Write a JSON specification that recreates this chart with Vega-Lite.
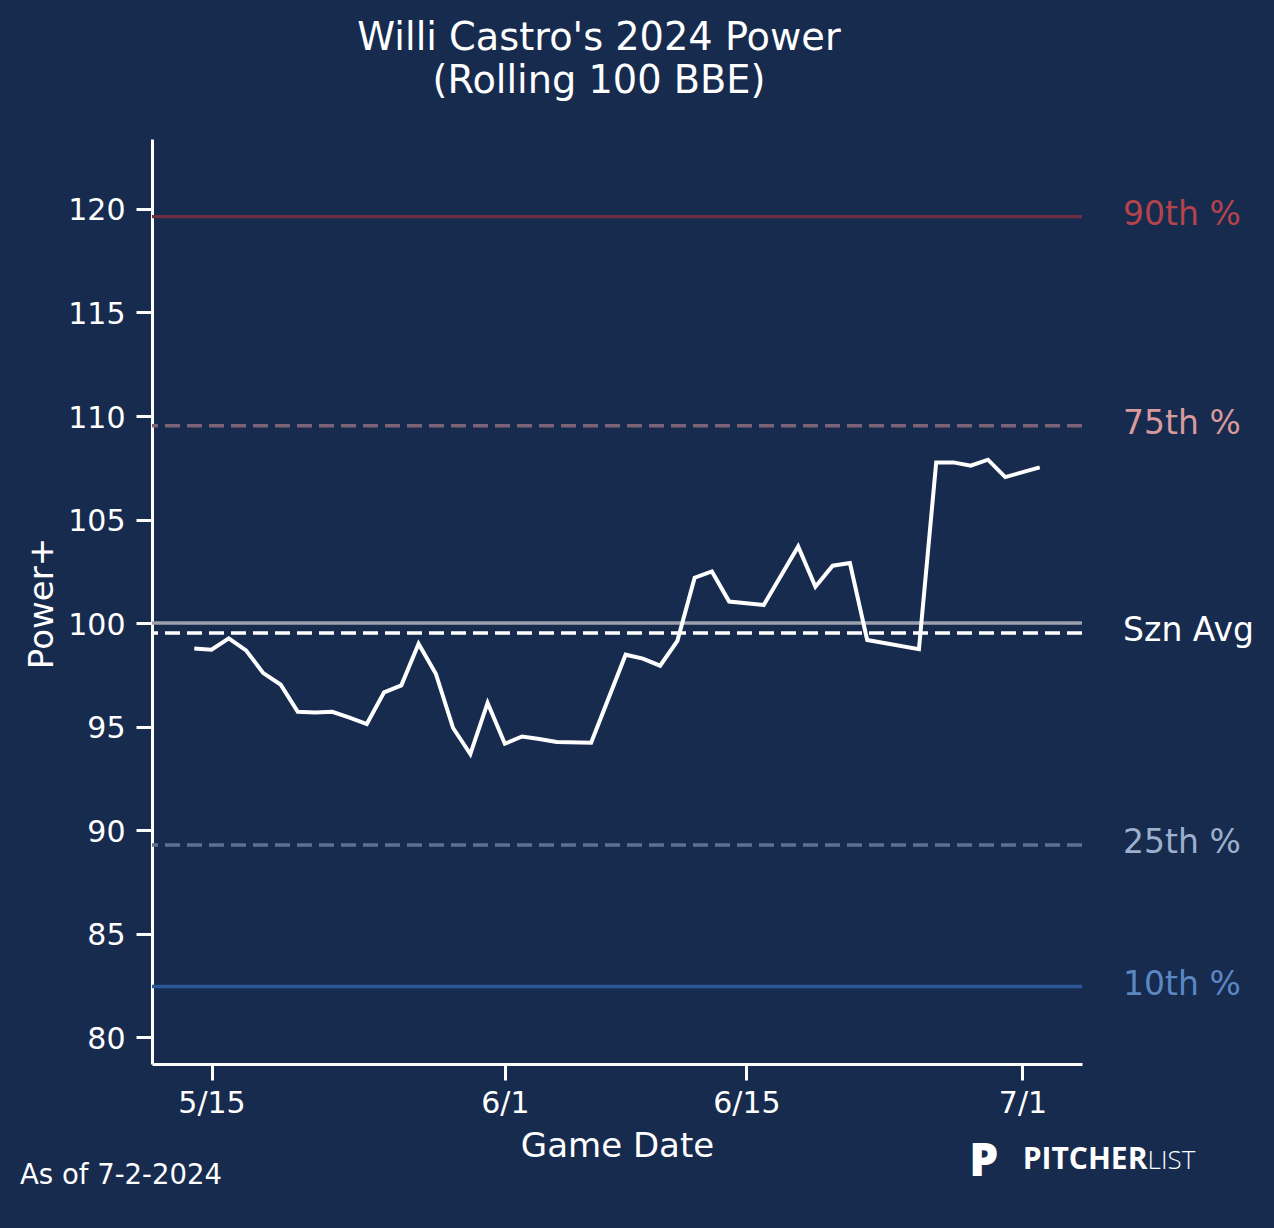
{
  "$schema": "https://vega.github.io/schema/vega-lite/v6.json",
  "width": 930,
  "height": 925,
  "autosize": {"type": "none"},
  "padding": {"left": 152, "top": 139, "right": 192, "bottom": 164},
  "background": "#172b4f",
  "title": {
    "text": ["Willi Castro's 2024 Power", "(Rolling 100 BBE)"],
    "fontSize": 38.3,
    "lineHeight": 43,
    "font": "DejaVu Sans",
    "fontWeight": "normal",
    "color": "#ffffff",
    "anchor": "middle",
    "dx": -18,
    "baseline": "bottom",
    "offset": 0
  },
  "datasets": {
    "power": [
      {"date": "2024-05-14", "value": 98.77},
      {"date": "2024-05-15", "value": 98.71},
      {"date": "2024-05-16", "value": 99.26},
      {"date": "2024-05-17", "value": 98.68},
      {"date": "2024-05-18", "value": 97.58},
      {"date": "2024-05-19", "value": 97.03},
      {"date": "2024-05-20", "value": 95.71},
      {"date": "2024-05-21", "value": 95.68},
      {"date": "2024-05-22", "value": 95.71},
      {"date": "2024-05-23", "value": 95.43},
      {"date": "2024-05-24", "value": 95.12},
      {"date": "2024-05-25", "value": 96.65},
      {"date": "2024-05-26", "value": 96.99},
      {"date": "2024-05-27", "value": 99.00},
      {"date": "2024-05-28", "value": 97.55},
      {"date": "2024-05-29", "value": 94.93},
      {"date": "2024-05-30", "value": 93.67},
      {"date": "2024-05-31", "value": 96.14},
      {"date": "2024-06-01", "value": 94.17},
      {"date": "2024-06-02", "value": 94.52},
      {"date": "2024-06-03", "value": 94.40},
      {"date": "2024-06-04", "value": 94.25},
      {"date": "2024-06-06", "value": 94.22},
      {"date": "2024-06-08", "value": 98.47},
      {"date": "2024-06-09", "value": 98.28},
      {"date": "2024-06-10", "value": 97.94},
      {"date": "2024-06-11", "value": 99.14},
      {"date": "2024-06-12", "value": 102.19},
      {"date": "2024-06-13", "value": 102.49},
      {"date": "2024-06-14", "value": 101.04},
      {"date": "2024-06-16", "value": 100.87},
      {"date": "2024-06-18", "value": 103.70},
      {"date": "2024-06-19", "value": 101.75},
      {"date": "2024-06-20", "value": 102.77},
      {"date": "2024-06-21", "value": 102.90},
      {"date": "2024-06-22", "value": 99.18},
      {"date": "2024-06-25", "value": 98.74},
      {"date": "2024-06-26", "value": 107.76},
      {"date": "2024-06-27", "value": 107.76},
      {"date": "2024-06-28", "value": 107.60},
      {"date": "2024-06-29", "value": 107.89},
      {"date": "2024-06-30", "value": 107.05},
      {"date": "2024-07-02", "value": 107.52}
    ],
    "refs": [
      {"ref": "90th %", "value": 119.63},
      {"ref": "75th %", "value": 109.53},
      {"ref": "League Avg", "value": 100.0},
      {"ref": "Szn Avg", "value": 99.52},
      {"ref": "25th %", "value": 89.28},
      {"ref": "10th %", "value": 82.44}
    ],
    "notes": [
      {"note": "asof", "label": "As of 7-2-2024"},
      {"note": "icon", "label": "P"},
      {"note": "brand1", "label": "PITCHER"},
      {"note": "brand2", "label": "LIST"}
    ]
  },
  "layer": [
    {
      "data": {"name": "refs"},
      "mark": {"type": "rule", "strokeWidth": 3.4},
      "encoding": {
        "y": {"field": "value", "type": "quantitative", "title": "Power+"},
        "stroke": {
          "field": "ref",
          "type": "nominal",
          "scale": {
            "domain": ["90th %", "75th %", "League Avg", "Szn Avg", "25th %", "10th %"],
            "range": ["#6e2f45", "#7b6275", "#9aa1ad", "#ffffff", "#5b7293", "#2c5898"]
          },
          "legend": null
        },
        "strokeDash": {
          "field": "ref",
          "type": "nominal",
          "scale": {
            "domain": ["90th %", "75th %", "League Avg", "Szn Avg", "25th %", "10th %"],
            "range": [[1, 0], [15, 7], [1, 0], [15, 7], [15, 7], [1, 0]]
          },
          "legend": null
        }
      }
    },
    {
      "data": {"name": "power"},
      "mark": {"type": "line", "color": "#ffffff", "strokeWidth": 4},
      "encoding": {
        "x": {
          "field": "date",
          "type": "temporal",
          "scale": {
            "type": "utc",
            "domain": [
              {"year": 2024, "month": 5, "date": 11, "hours": 13, "minutes": 12, "utc": true},
              {"year": 2024, "month": 7, "date": 4, "hours": 10, "minutes": 48, "utc": true}
            ]
          },
          "axis": {
            "title": "Game Date",
            "values": [
              {"year": 2024, "month": 5, "date": 15, "utc": true},
              {"year": 2024, "month": 6, "date": 1, "utc": true},
              {"year": 2024, "month": 6, "date": 15, "utc": true},
              {"year": 2024, "month": 7, "date": 1, "utc": true}
            ],
            "format": "%-m/%-d",
            "grid": false,
            "domainColor": "#ffffff",
            "domainWidth": 3,
            "tickColor": "#ffffff",
            "tickWidth": 3,
            "tickSize": 16,
            "labelColor": "#ffffff",
            "labelFont": "DejaVu Sans",
            "labelFontSize": 30,
            "labelBaseline": "alphabetic",
            "labelPadding": 32,
            "labelFlush": false,
            "labelOverlap": false,
            "titleColor": "#ffffff",
            "titleFont": "DejaVu Sans",
            "titleFontSize": 34,
            "titleFontWeight": "normal",
            "titleBaseline": "alphabetic",
            "titleY": 92
          }
        },
        "y": {
          "field": "value",
          "type": "quantitative",
          "title": "Power+",
          "scale": {"domain": [78.7, 123.38], "nice": false, "zero": false},
          "axis": {
            "values": [80, 85, 90, 95, 100, 105, 110, 115, 120],
            "grid": false,
            "domainColor": "#ffffff",
            "domainWidth": 3,
            "tickColor": "#ffffff",
            "tickWidth": 3,
            "tickSize": 16,
            "labelColor": "#ffffff",
            "labelFont": "DejaVu Sans",
            "labelFontSize": 30,
            "labelPadding": 11,
            "labelOffset": 2,
            "titleColor": "#ffffff",
            "titleFont": "DejaVu Sans",
            "titleFontSize": 34,
            "titleFontWeight": "normal",
            "titleAngle": 270,
            "titleAlign": "center",
            "titleBaseline": "alphabetic",
            "titleX": -100,
            "titleY": 464
          }
        }
      }
    },
    {
      "data": {"name": "refs"},
      "transform": [{"filter": "datum.ref !== 'League Avg'"}],
      "mark": {"type": "text", "align": "left", "baseline": "middle", "dy": -2, "font": "DejaVu Sans", "fontSize": 33},
      "encoding": {
        "x": {"datum": {"year": 2024, "month": 7, "date": 6, "hours": 20, "minutes": 0, "utc": true}, "type": "temporal"},
        "y": {"field": "value", "type": "quantitative", "title": "Power+"},
        "text": {"field": "ref"},
        "fill": {
          "field": "ref",
          "type": "nominal",
          "scale": {
            "domain": ["90th %", "75th %", "Szn Avg", "25th %", "10th %"],
            "range": ["#b5434b", "#d89a9c", "#ffffff", "#9cb0cc", "#5b87c2"]
          },
          "legend": null
        }
      }
    },
    {
      "data": {"name": "notes"},
      "transform": [{"filter": "datum.note === 'asof'"}],
      "mark": {"type": "text", "align": "left", "baseline": "alphabetic", "font": "DejaVu Sans", "fontSize": 27.5, "fill": "#ffffff"},
      "encoding": {
        "x": {"datum": {"year": 2024, "month": 5, "date": 3, "hours": 21, "minutes": 36, "utc": true}, "type": "temporal"},
        "y": {"datum": 72.91, "type": "quantitative"},
        "text": {"field": "label"}
      }
    },
    {
      "data": {"name": "notes"},
      "transform": [{"filter": "datum.note === 'icon'"}],
      "mark": {"type": "text", "align": "left", "baseline": "alphabetic", "font": "Open Sans", "fontWeight": 800, "fontSize": 46, "fill": "#ffffff"},
      "encoding": {
        "x": {"datum": {"year": 2024, "month": 6, "date": 27, "hours": 22, "minutes": 0, "utc": true}, "type": "temporal"},
        "y": {"datum": 73.3, "type": "quantitative"},
        "text": {"field": "label"}
      }
    },
    {
      "data": {"name": "notes"},
      "transform": [{"filter": "datum.note === 'brand1'"}],
      "mark": {"type": "text", "align": "left", "baseline": "alphabetic", "font": "Open Sans", "fontWeight": 700, "fontSize": 30, "fill": "#ffffff"},
      "encoding": {
        "x": {"datum": {"year": 2024, "month": 7, "date": 1, "hours": 0, "minutes": 15, "utc": true}, "type": "temporal"},
        "y": {"datum": 73.64, "type": "quantitative"},
        "text": {"field": "label"}
      }
    },
    {
      "data": {"name": "notes"},
      "transform": [{"filter": "datum.note === 'brand2'"}],
      "mark": {"type": "text", "align": "left", "baseline": "alphabetic", "font": "Open Sans", "fontWeight": 300, "fontSize": 26, "fill": "#ffffff"},
      "encoding": {
        "x": {"datum": {"year": 2024, "month": 7, "date": 8, "hours": 6, "minutes": 0, "utc": true}, "type": "temporal"},
        "y": {"datum": 73.64, "type": "quantitative"},
        "text": {"field": "label"}
      }
    }
  ],
  "config": {
    "view": {"stroke": null},
    "axis": {"grid": false}
  }
}
